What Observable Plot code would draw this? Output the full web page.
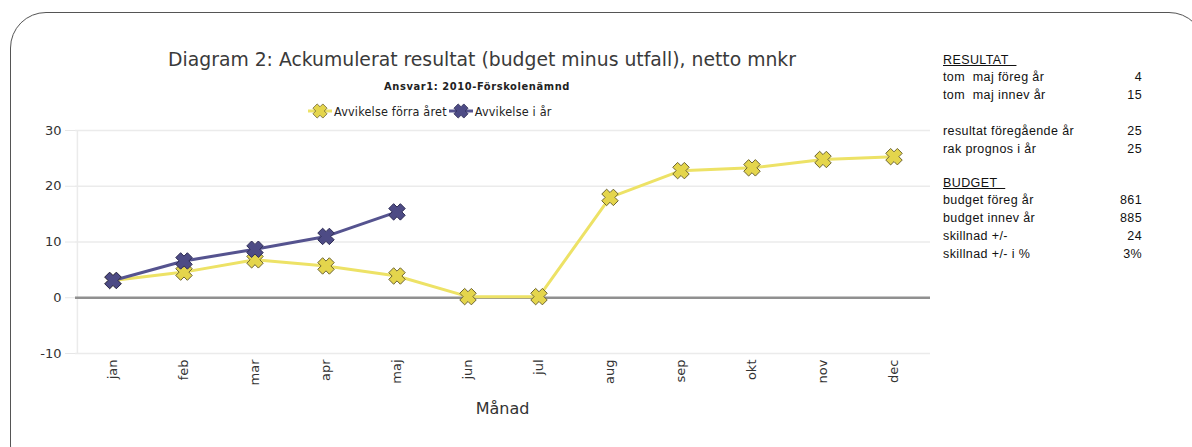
<!DOCTYPE html>
<html>
<head>
<meta charset="utf-8">
<script src="https://cdn.jsdelivr.net/npm/d3@7"></script>
<script src="https://cdn.jsdelivr.net/npm/@observablehq/plot@0.6"></script>
<style>
  html, body { margin: 0; padding: 0; background: #fff; }
  #page { position: relative; width: 1192px; height: 447px; overflow: hidden; }
  #frame { position: absolute; left: 10px; top: 12px; width: 1195px; height: 470px;
           border: 1.6px solid #555; border-radius: 36px; box-sizing: border-box; }
  #title { position: absolute; left: 0; width: 964px; top: 49px; text-align: center;
           font-family: "DejaVu Sans", sans-serif; font-size: 18.8px; color: #3a3a3a; }
  #subtitle { position: absolute; left: 0; width: 954px; top: 80px; text-align: center;
           font-family: "DejaVu Sans Condensed", "DejaVu Sans", sans-serif; font-weight: bold; font-size: 11px; letter-spacing: 0.6px; color: #222; }
  #legend { position: absolute; left: 308px; top: 102px; font-family: "DejaVu Sans Condensed", "DejaVu Sans", sans-serif;
            font-size: 12.5px; color: #222; display: flex; align-items: center; white-space: nowrap; letter-spacing: 0.2px; }
  #legend .item { display: flex; align-items: center; margin-right: 2px; }
  #legend svg { margin-right: 2px; }
  #chart { position: absolute; left: 0; top: 120px; }
  #xlabel { position: absolute; left: 75px; width: 855px; top: 399px; text-align: center;
            font-family: "DejaVu Sans", sans-serif; font-size: 16px; color: #333; }
  #side { position: absolute; left: 943px; top: 53px; width: 199px;
          font-family: "Liberation Sans", Arial, sans-serif; font-size: 12.5px; letter-spacing: 0.4px; color: #111; }
  #side .row { display: flex; justify-content: space-between; height: 18px; line-height: 18px; white-space: pre; }
  #side .row.h { height: 15px; line-height: 15px; }
  #side .hdr { text-decoration: underline; }
</style>
</head>
<body>
<div id="page">
  <div id="frame"></div>
  <div id="title"></div>
  <div id="subtitle"></div>
  <div id="legend"></div>
  <div id="chart"></div>
  <div id="xlabel"></div>
  <div id="side"></div>
</div>
<script>
const months = ["jan","feb","mar","apr","maj","jun","jul","aug","sep","okt","nov","dec"];
const forraAret = [3.1, 4.6, 6.8, 5.7, 3.9, 0.2, 0.2, 18.0, 22.8, 23.3, 24.8, 25.3];
const iAr = [3.1, 6.6, 8.7, 11.0, 15.4];
const seriesNames = ["Avvikelse förra året", "Avvikelse i år"];
const lineColors = ["#ede266", "#55538f"];
const markerFills = ["#e4d54c", "#4d4b85"];
const markerStrokes = ["#6e6532", "#2f2d55"];
const yTicks = [-10, 0, 10, 20, 30];
const titleText = "Diagram 2: Ackumulerat resultat (budget minus utfall), netto mnkr";
const subtitleText = "Ansvar1: 2010-Förskolenämnd";
const xLabel = "Månad";
const sideRows = [
  ["RESULTAT", "", "hdr"],
  ["tom  maj föreg år", "4"],
  ["tom  maj innev år", "15"],
  ["", ""],
  ["resultat föregående år", "25"],
  ["rak prognos i år", "25"],
  ["", ""],
  ["BUDGET", "", "hdr"],
  ["budget föreg år", "861"],
  ["budget innev år", "885"],
  ["skillnad +/-", "24"],
  ["skillnad +/- i %", "3%"]
];

document.getElementById("title").textContent = titleText;
document.getElementById("subtitle").textContent = subtitleText;
document.getElementById("xlabel").textContent = xLabel;

// fat X symbol
const fatX = {
  draw(ctx, size) {
    const r = Math.sqrt(size / Math.PI);
    const a = r, b = r * 0.42;
    const pts = [[-b,-a],[b,-a],[b,-b],[a,-b],[a,b],[b,b],[b,a],[-b,a],[-b,b],[-a,b],[-a,-b],[-b,-b]]
      .map(([x,y]) => [(x - y) / Math.SQRT2, (x + y) / Math.SQRT2]);
    ctx.moveTo(pts[0][0], pts[0][1]);
    for (let i = 1; i < pts.length; i++) ctx.lineTo(pts[i][0], pts[i][1]);
    ctx.closePath();
  }
};

const data = [
  ...forraAret.map((v, i) => ({month: months[i], value: v, s: seriesNames[0]})),
  ...iAr.map((v, i) => ({month: months[i], value: v, s: seriesNames[1]}))
];
const d0 = data.filter(d => d.s === seriesNames[0]);
const d1 = data.filter(d => d.s === seriesNames[1]);

const chart = Plot.plot({
  width: 940,
  height: 310,
  marginLeft: 75,
  marginRight: 10,
  marginTop: 10,
  marginBottom: 77,
  style: {background: "transparent", fontFamily: "DejaVu Sans, sans-serif"},
  x: {type: "band", domain: months, padding: 0, label: null},
  y: {domain: [-10, 30], label: null},
  marks: [
    Plot.ruleY([10, 20, 30, -10], {stroke: "#ebebeb", strokeWidth: 1.5}),
    Plot.ruleX([months[0]], {stroke: "#ebebeb", strokeWidth: 1.5, y1: -10, y2: 30, dx: -35.6}),
    Plot.axisY({ticks: yTicks, tickSize: 10, tickPadding: 4, stroke: "#e6e6e6", fontSize: 13, color: "#333", label: null, tickFormat: d => String(d)}),
    Plot.axisX({tickSize: 0, tickRotate: -90, tickPadding: 6, fontSize: 13, color: "#333", label: null}),
    Plot.ruleY([0], {stroke: "#909090", strokeWidth: 2.5}),
    Plot.line(d0, {x: "month", y: "value", stroke: lineColors[0], strokeWidth: 3}),
    Plot.line(d1, {x: "month", y: "value", stroke: lineColors[1], strokeWidth: 3}),
    Plot.dot(d0, {x: "month", y: "value", symbol: fatX, r: 8.2, fill: markerFills[0], stroke: markerStrokes[0], strokeWidth: 1}),
    Plot.dot(d1, {x: "month", y: "value", symbol: fatX, r: 8.2, fill: markerFills[1], stroke: markerStrokes[1], strokeWidth: 1})
  ]
});
document.getElementById("chart").appendChild(chart);

// legend
const leg = document.getElementById("legend");
seriesNames.forEach((n, i) => {
  const item = document.createElement("span");
  item.className = "item";
  const s = Math.SQRT2;
  const a = 7, b = 3;
  const pts = [[-b,-a],[b,-a],[b,-b],[a,-b],[a,b],[b,b],[b,a],[-b,a],[-b,b],[-a,b],[-a,-b],[-b,-b]]
    .map(([x,y]) => [((x - y) / s + 12).toFixed(2), ((x + y) / s + 9).toFixed(2)].join(",")).join(" ");
  item.innerHTML = `<svg width="24" height="18"><line x1="0" x2="24" y1="9" y2="9" stroke="${lineColors[i]}" stroke-width="3"/><polygon points="${pts}" fill="${markerFills[i]}" stroke="${markerStrokes[i]}" stroke-width="0.8"/></svg>`;
  const t = document.createElement("span");
  t.textContent = n;
  item.appendChild(t);
  leg.appendChild(item);
});

// side panel
const side = document.getElementById("side");
sideRows.forEach(r => {
  const row = document.createElement("div");
  row.className = "row" + (r[2] === "hdr" ? " h" : "");
  const l = document.createElement("span");
  l.textContent = r[0];
  if (r[2] === "hdr") { l.className = "hdr"; l.textContent = r[0] + "\u00a0\u00a0"; }
  const v = document.createElement("span");
  v.textContent = r[1];
  row.appendChild(l); row.appendChild(v);
  side.appendChild(row);
});
</script>
</body>
</html>
